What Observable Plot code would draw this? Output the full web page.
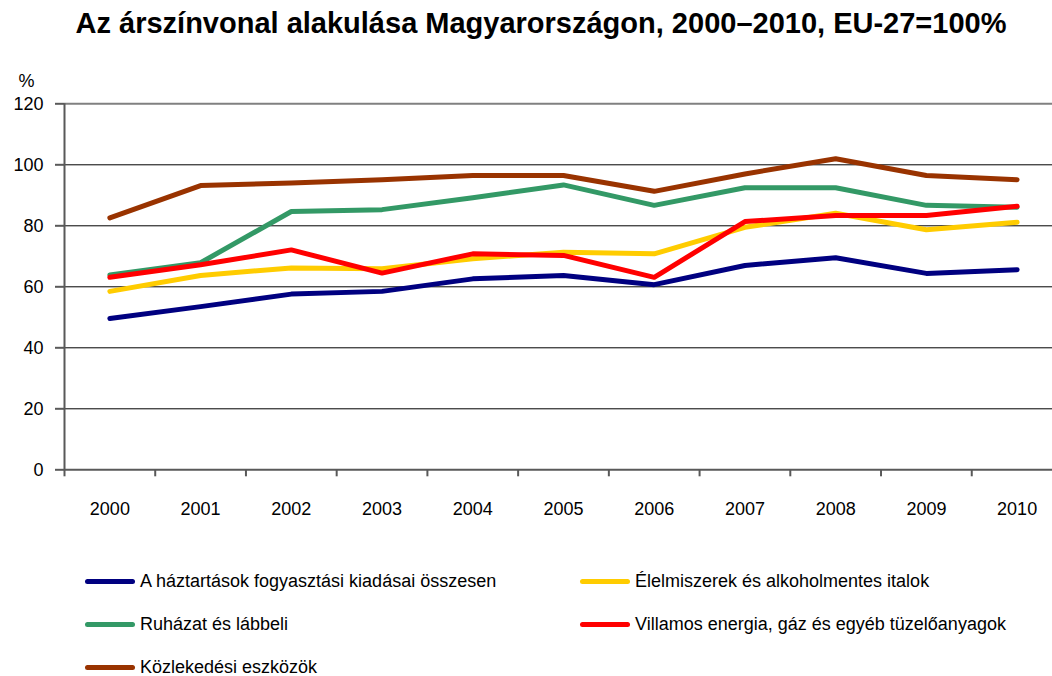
<!DOCTYPE html>
<html><head><meta charset="utf-8">
<script src="https://cdn.jsdelivr.net/npm/d3@7"></script>
<script src="https://cdn.jsdelivr.net/npm/@observablehq/plot@0.6"></script>
<style>
body{margin:0;background:#fff;font-family:"Liberation Sans",Arial,sans-serif;width:1052px;height:676px;overflow:hidden}
#title{height:50px;line-height:46px;font-weight:bold;font-size:29px;text-align:center;padding-left:30px;box-sizing:border-box;color:#000;white-space:nowrap}
#legend{display:grid;grid-template-columns:495px 440px;grid-auto-rows:43px;margin-left:85px;font-size:18px;color:#000}
.item{display:flex;align-items:center;white-space:nowrap}
.sw{width:50px;height:5px;border-radius:3px;margin-right:5px;flex:none}
svg{display:block}
</style></head><body>
<div id="title">Az árszínvonal alakulása Magyarországon, 2000–2010, EU-27=100%</div>
<div id="chart"></div>
<div id="legend"></div>
<script>
const years = [2000, 2001, 2002, 2003, 2004, 2005, 2006, 2007, 2008, 2009, 2010];
const seriesNames = [
  "A háztartások fogyasztási kiadásai összesen",
  "Élelmiszerek és alkoholmentes italok",
  "Ruházat és lábbeli",
  "Villamos energia, gáz és egyéb tüzelőanyagok",
  "Közlekedési eszközök"
];
const seriesColors = ["#000080", "#FFCC00", "#339966", "#FF0000", "#993300"];
const total     = [49.6, 53.5, 57.6, 58.5, 62.6, 63.7, 60.7, 67.0, 69.5, 64.4, 65.6];
const food      = [58.5, 63.7, 66.2, 65.9, 69.2, 71.3, 70.8, 79.5, 84.1, 78.7, 81.2];
const clothing  = [63.9, 67.9, 84.7, 85.3, 89.2, 93.4, 86.7, 92.5, 92.5, 86.7, 86.1];
const energy    = [63.1, 67.2, 72.1, 64.5, 70.8, 70.3, 63.1, 81.4, 83.4, 83.4, 86.4];
const transport = [82.6, 93.2, 94.0, 95.1, 96.5, 96.5, 91.3, 97.0, 102.0, 96.5, 95.1];
const yTicks = [0, 20, 40, 60, 80, 100, 120];

const seriesValues = [total, food, clothing, energy, transport];
const data = seriesValues.flatMap((vals, i) =>
  vals.map((v, j) => ({year: years[j], value: v, series: seriesNames[i]})));
const boundaries = years.map(y => y - 0.5);

const chart = Plot.plot({
  width: 1052,
  height: 510,
  marginLeft: 64,
  marginRight: 0,
  marginTop: 53.3,
  marginBottom: 90.7,
  style: {fontFamily: "'Liberation Sans', Arial, sans-serif", fontSize: "18px", color: "#000", background: "#fff"},
  x: {type: "linear", domain: [years[0] - 0.5, years[years.length - 1] + 0.39]},
  y: {domain: [0, 120]},
  color: {domain: seriesNames, range: seriesColors},
  marks: [
    Plot.ruleY(yTicks.filter(d => d > 0 && d < 120), {stroke: "#000", strokeWidth: 1}),
    Plot.ruleY([120], {stroke: "#808080", strokeWidth: 2}),
    Plot.ruleY([0], {stroke: "#595959", strokeWidth: 2}),
    Plot.ruleX([boundaries[0]], {stroke: "#595959", strokeWidth: 2}),
    Plot.axisY({ticks: yTicks, tickSize: 9, tickPadding: 12, stroke: "#595959", strokeWidth: 2, fontSize: 18, label: null}),
    Plot.axisX({ticks: boundaries, tickSize: 7, tickFormat: () => "", stroke: "#595959", strokeWidth: 2, label: null}),
    Plot.axisX({ticks: years, tickSize: 0, tickPadding: 32, tickFormat: d => String(d), fontSize: 18, label: null}),
    Plot.lineY(data, {x: "year", y: "value", z: "series", stroke: "series", strokeWidth: 5, strokeLinecap: "round", strokeLinejoin: "round"}),
    Plot.text(["%"], {frameAnchor: "top-left", dx: -46, dy: -30, fontSize: 18})
  ]
});
document.getElementById("chart").append(chart);

const legend = document.getElementById("legend");
const order = [0, 1, 2, 3, 4];
order.forEach(i => {
  const item = document.createElement("div");
  item.className = "item";
  const sw = document.createElement("span");
  sw.className = "sw";
  sw.style.background = seriesColors[i];
  const label = document.createElement("span");
  label.textContent = seriesNames[i];
  item.append(sw, label);
  legend.append(item);
});
</script>
</body></html>
